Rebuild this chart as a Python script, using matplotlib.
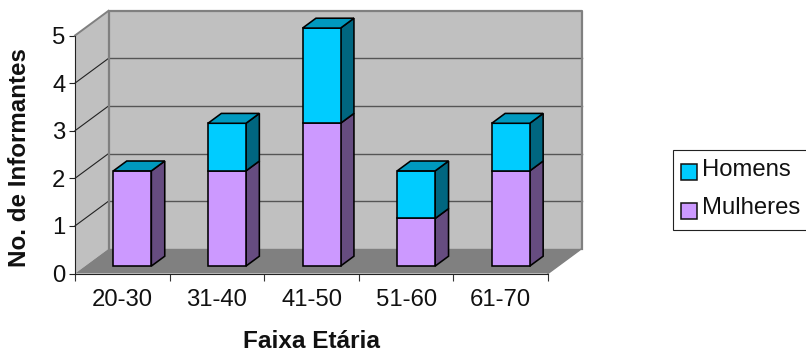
import matplotlib
matplotlib.use("Agg")
import matplotlib.pyplot as plt
from matplotlib.patches import Polygon, Rectangle

plt.rcParams['font.family'] = ['Liberation Sans', 'DejaVu Sans']

categories = ['20-30', '31-40', '41-50', '51-60', '61-70']
mulheres = [2, 2, 3, 1, 2]
homens = [0, 1, 2, 1, 1]
yticks = [0, 1, 2, 3, 4, 5]

W, H = 806, 354
fig = plt.figure(figsize=(W / 100, H / 100), dpi=100)
L, R, T, B = 75, 548, 35.5, 273.5
ax = fig.add_axes([L / W, 1 - B / H, (R - L) / W, (B - T) / H])
ax.set_xlim(0, len(categories))
ax.set_ylim(0, 5)
ax.patch.set_visible(False)
for s in ax.spines.values():
    s.set_visible(False)

DX = 33.5 / ((R - L) / 5)
DY = 24.7 / ((B - T) / 5)
n = len(categories)
ymax = yticks[-1]


def P(x, y, d):
    return (x + DX * d, y + DY * d)


def poly(pts, fc, ec='none', lw=0, z=1):
    ax.add_patch(Polygon(pts, closed=True, facecolor=fc, edgecolor=ec, linewidth=lw,
                         zorder=z, clip_on=False, joinstyle='miter'))


# walls and floor
poly([P(0, 0, 1), P(n, 0, 1), P(n, ymax, 1), P(0, ymax, 1)], '#C0C0C0', z=1)
poly([P(0, 0, 0), P(0, 0, 1), P(0, ymax, 1), P(0, ymax, 0)], '#C0C0C0', z=1)
poly([P(0, 0, 0), P(n, 0, 0), P(n, 0, 1), P(0, 0, 1)], '#808080', z=1)

for v in yticks[1:-1]:
    a, b, c = P(0, v, 0), P(0, v, 1), P(n, v, 1)
    ax.plot([a[0], b[0]], [a[1], b[1]], color='#222222', lw=0.8, zorder=2, clip_on=False)
    ax.plot([b[0], c[0]], [b[1], c[1]], color='#555555', lw=1.0, zorder=2, clip_on=False)

# wall borders
pts = [P(0, 0, 1), P(0, ymax, 1), P(n, ymax, 1), P(n, 0, 1)]
ax.plot([p[0] for p in pts], [p[1] for p in pts], color='#808080', lw=1.6, zorder=2, clip_on=False)
pts = [P(0, ymax, 0), P(0, ymax, 1)]
ax.plot([p[0] for p in pts], [p[1] for p in pts], color='#808080', lw=1.4, zorder=2, clip_on=False)
pts = [P(n, 0, 0), P(n, 0, 1)]
ax.plot([p[0] for p in pts], [p[1] for p in pts], color='#808080', lw=1.0, zorder=2, clip_on=False)

# bars
bw = 38 / ((R - L) / 5)
d0, d1 = 0.30, 0.70
edge = dict(ec='black', lw=1.15, z=4)
for i, (m, h) in enumerate(zip(mulheres, homens)):
    x0, x1 = i + 0.5 - bw / 2, i + 0.5 + bw / 2
    segs = [(0, m, '#CC99FF', '#664C80')]
    if h:
        segs.append((m, m + h, '#00CCFF', '#006680'))
    for lo, hi, front, side in segs:
        poly([P(x1, lo, d0), P(x1, lo, d1), P(x1, hi, d1), P(x1, hi, d0)], side, **edge)
        poly([P(x0, lo, d0), P(x1, lo, d0), P(x1, hi, d0), P(x0, hi, d0)], front, **edge)
    top = m + h
    poly([P(x0, top, d0), P(x1, top, d0), P(x1, top, d1), P(x0, top, d1)], '#0099BF', **edge)

# axes ticks
for side in ('left', 'bottom'):
    ax.spines[side].set_visible(True)
    ax.spines[side].set_color('#222222')
    ax.spines[side].set_linewidth(0.8)
    ax.spines[side].set_zorder(3)
ax.set_xticks(range(n + 1))
ax.set_xticklabels([])
ax.set_xticks([i + 0.5 for i in range(n)], categories, minor=True)
ax.set_yticks(yticks)
ax.tick_params(axis='x', which='major', length=5, width=0.8, color='#333333')
ax.tick_params(axis='x', which='minor', length=0, labelsize=17.2, pad=11, labelcolor='#111111')
ax.tick_params(axis='y', length=4.5, width=0.8, color='#222222', labelsize=17.2, pad=2.5, labelcolor='#111111')

fig.text(311.5 / W, 1 - 342 / H, 'Faixa Etária', fontsize=17.6, fontweight='bold', color='#111111',
         ha='center', va='center')
fig.text(19.5 / W, 1 - 158 / H, 'No. de Informantes', fontsize=17.4, fontweight='bold', color='#111111',
         ha='center', va='center', rotation=90)

# legend
fig.add_artist(Rectangle((672.5 / W, 1 - 230 / H), 140 / W, 80.5 / H, transform=fig.transFigure,
                         facecolor='white', edgecolor='#222222', linewidth=0.8))
for y, col, lab in [(172, '#00CCFF', 'Homens'), (211, '#CC99FF', 'Mulheres')]:
    fig.add_artist(Rectangle((681 / W, 1 - (y + 8) / H), 16 / W, 16 / H, transform=fig.transFigure,
                             facecolor=col, edgecolor='#111111', linewidth=1.1))
    fig.text(702.5 / W, 1 - (y - 2.5) / H, lab, fontsize=17.2, color='#111111', ha='left', va='center')

fig.savefig('out.png', dpi=100)
